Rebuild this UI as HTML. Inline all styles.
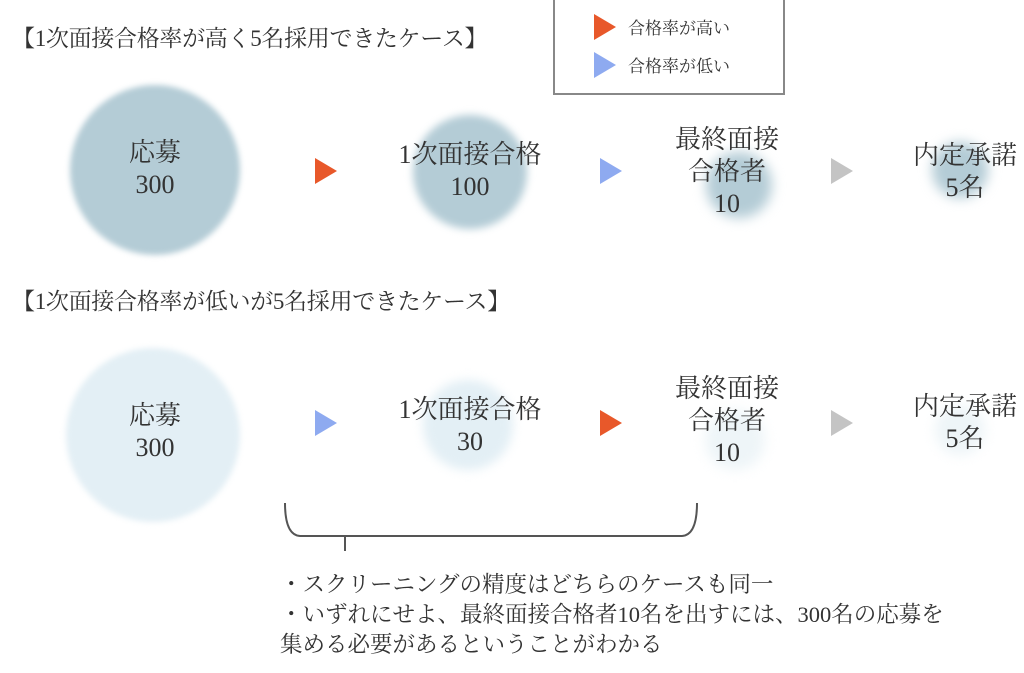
<!DOCTYPE html>
<html><head><meta charset="utf-8"><style>
body{margin:0;width:1024px;height:673px;background:#fff;position:relative;overflow:hidden;font-family:"Liberation Serif","Noto Serif CJK JP","Noto Serif CJK SC",serif;color:#333}
.t{position:absolute;white-space:nowrap}
.c{position:absolute;border-radius:50%}
.lbl{position:absolute;text-align:center;font-size:26px;line-height:32px;transform:translateX(-50%);white-space:nowrap}
.tri{position:absolute;width:0;height:0;border-top:13px solid transparent;border-bottom:13px solid transparent;border-left:22px solid}
</style></head><body>
<div class="t" style="left:12px;top:20px;font-size:23px;letter-spacing:-0.3px">【1次面接合格率が高く5名採用できたケース】</div>
<div class="t" style="left:12px;top:283px;font-size:23px;letter-spacing:-0.3px">【1次面接合格率が低いが5名採用できたケース】</div>

<div style="position:absolute;left:553px;top:-2px;width:228px;height:93px;border:2px solid #888"></div>
<div class="tri" style="left:594px;top:14px;border-left-color:#e8582a"></div>
<div class="tri" style="left:594px;top:52px;border-left-color:#8eaaf0"></div>
<div class="t" style="left:628px;top:14px;font-size:17px">合格率が高い</div>
<div class="t" style="left:628px;top:52px;font-size:17px">合格率が低い</div>

<div class="c" style="left:70px;top:85px;width:170px;height:170px;background:#b4ccd6;filter:blur(3px)"></div>
<div class="c" style="left:413px;top:115px;width:114px;height:114px;background:#b4ccd6;filter:blur(4px)"></div>
<div class="c" style="left:706px;top:152px;width:66px;height:66px;background:#b4ccd6;filter:blur(6px)"></div>
<div class="c" style="left:932px;top:142px;width:56px;height:56px;background:#b4ccd6;filter:blur(6px)"></div>
<div class="c" style="left:66px;top:348px;width:174px;height:174px;background:#e3eff5;filter:blur(3px)"></div>
<div class="c" style="left:423px;top:380px;width:90px;height:90px;background:#e3eff5;filter:blur(5px)"></div>
<div class="c" style="left:705px;top:410px;width:60px;height:60px;background:#eef5f8;filter:blur(6px)"></div>
<div class="c" style="left:935px;top:405px;width:50px;height:50px;background:#eef5f8;filter:blur(6px)"></div>

<div class="lbl" style="left:155px;top:137px">応募<br>300</div>
<div class="lbl" style="left:470px;top:139px">1次面接合格<br>100</div>
<div class="lbl" style="left:727px;top:124px">最終面接<br>合格者<br>10</div>
<div class="lbl" style="left:965px;top:140px">内定承諾<br>5名</div>

<div class="lbl" style="left:155px;top:400px">応募<br>300</div>
<div class="lbl" style="left:470px;top:394px">1次面接合格<br>30</div>
<div class="lbl" style="left:727px;top:373px">最終面接<br>合格者<br>10</div>
<div class="lbl" style="left:965px;top:391px">内定承諾<br>5名</div>

<div class="tri" style="left:315px;top:158px;border-left-color:#e8582a"></div>
<div class="tri" style="left:600px;top:158px;border-left-color:#8eaaf0"></div>
<div class="tri" style="left:831px;top:158px;border-left-color:#c4c4c4"></div>
<div class="tri" style="left:315px;top:410px;border-left-color:#8eaaf0"></div>
<div class="tri" style="left:600px;top:410px;border-left-color:#e8582a"></div>
<div class="tri" style="left:831px;top:410px;border-left-color:#c4c4c4"></div>

<svg style="position:absolute;left:0;top:0" width="1024" height="673">
<path d="M285 503 Q285 535 300 536 L682 536 Q697 535 697 503" fill="none" stroke="#555" stroke-width="2"/>
<line x1="345" y1="536" x2="345" y2="551" stroke="#555" stroke-width="2"/>
</svg>
<div class="t" style="left:280px;top:570px;font-size:22.5px;line-height:30px">・スクリーニングの精度はどちらのケースも同一<br>・いずれにせよ、最終面接合格者10名を出すには、300名の応募を<br>集める必要があるということがわかる</div>
</body></html>
